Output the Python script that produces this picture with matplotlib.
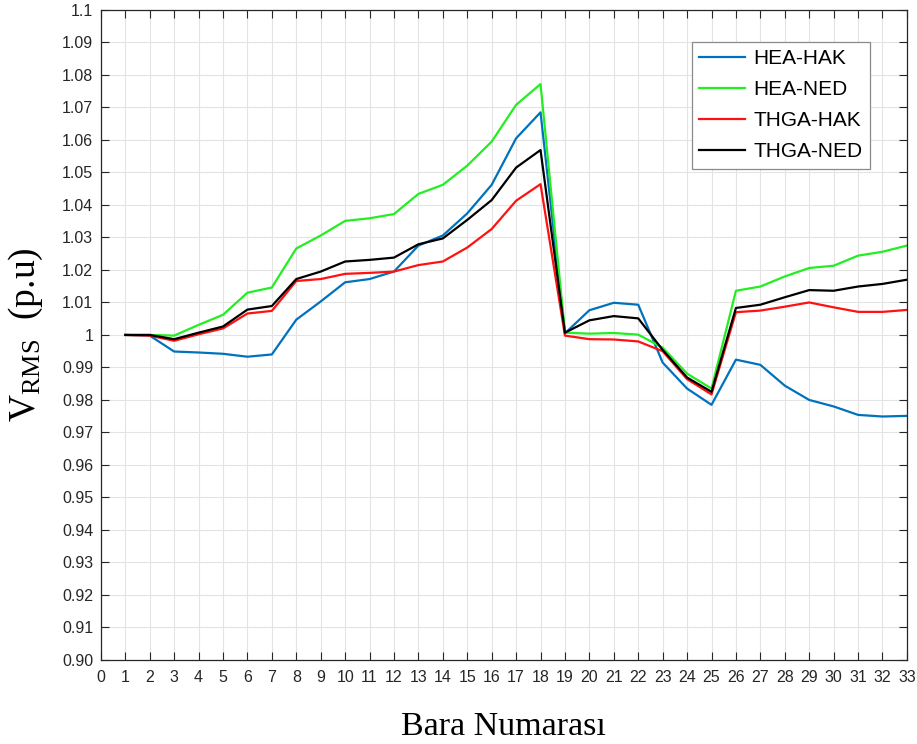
import numpy as np
import matplotlib.pyplot as plt

# bus numbers and RMS voltage profiles (p.u)
bus = list(range(1, 34))

hea_hak = [1.0000, 0.9998, 0.9949, 0.9946, 0.9942, 0.9933, 0.9940, 1.0047, 1.0103, 1.0162,
           1.0172, 1.0195, 1.0275, 1.0306, 1.0374, 1.0462, 1.0605, 1.0685, 1.0005, 1.0076,
           1.0099, 1.0093, 0.9915, 0.9835, 0.9785, 0.9924, 0.9908, 0.9844, 0.9800, 0.9780,
           0.9754, 0.9749, 0.9751]
hea_ned = [1.0000, 1.0000, 0.9998, 1.0031, 1.0062, 1.0130, 1.0146, 1.0266, 1.0306, 1.0351,
           1.0359, 1.0372, 1.0434, 1.0462, 1.0521, 1.0595, 1.0708, 1.0772, 1.0007, 1.0004,
           1.0006, 1.0001, 0.9961, 0.9881, 0.9835, 1.0136, 1.0149, 1.0180, 1.0206, 1.0213,
           1.0244, 1.0256, 1.0275]
thga_hak = [1.0000, 0.9998, 0.9982, 1.0002, 1.0020, 1.0066, 1.0074, 1.0166, 1.0172, 1.0188,
            1.0191, 1.0195, 1.0215, 1.0226, 1.0269, 1.0326, 1.0413, 1.0464, 0.9998, 0.9987,
            0.9986, 0.9980, 0.9950, 0.9864, 0.9817, 1.0070, 1.0075, 1.0087, 1.0100, 1.0085,
            1.0071, 1.0071, 1.0077]
thga_ned = [1.0000, 1.0000, 0.9987, 1.0007, 1.0026, 1.0078, 1.0089, 1.0172, 1.0195, 1.0226,
            1.0231, 1.0238, 1.0279, 1.0297, 1.0354, 1.0415, 1.0515, 1.0569, 1.0007, 1.0045,
            1.0058, 1.0051, 0.9954, 0.9869, 0.9825, 1.0083, 1.0093, 1.0116, 1.0138, 1.0136,
            1.0149, 1.0157, 1.0170]

series = [
    ('HEA-HAK', hea_hak, '#0072BD'),
    ('HEA-NED', hea_ned, '#22EE22'),
    ('THGA-HAK', thga_hak, '#FF1111'),
    ('THGA-NED', thga_ned, '#000000'),
]

y_ticks = np.round(np.arange(0.90, 1.1001, 0.01), 2)
y_labels = ['0.90'] + [f'{v:g}' for v in y_ticks[1:]]

fig = plt.figure(figsize=(9.17, 7.44), dpi=100)
ax = fig.add_axes([0.110, 0.113, 0.879, 0.8736])

for name, vals, col in series:
    ax.plot(bus, vals, color=col, linewidth=1.6, label=name)

ax.set_xlim(0, 33)
ax.set_ylim(0.90, 1.10)
ax.set_xticks(range(0, 34))
ax.set_yticks(y_ticks)
ax.set_yticklabels(y_labels)
ax.tick_params(axis='both', direction='in', top=True, right=True, length=6,
               width=0.8, labelsize=11.5, colors='#262626')
ax.tick_params(axis='x', pad=7)
ax.tick_params(axis='y', pad=5.5)
for lbl in ax.get_xticklabels() + ax.get_yticklabels():
    lbl.set_family('Liberation Sans')
ax.grid(True, color='#e3e3e3', linewidth=0.8)
ax.set_axisbelow(True)
for sp in ax.spines.values():
    sp.set_color('#262626')
    sp.set_linewidth(0.9)

ax.set_xlabel('Bara Numarası', family='Liberation Serif', fontsize=24.5, labelpad=19)
ax.set_ylabel(r'$\mathregular{V_{RMS}}$  (p.u)', family='Liberation Serif',
              fontsize=27, labelpad=12)

leg = ax.legend(loc='upper right', bbox_to_anchor=(0.954, 0.951), borderaxespad=0,
                prop={'family': 'Liberation Sans', 'size': 15},
                fancybox=False, framealpha=1, edgecolor='#8a8a8a',
                handlelength=2.2, handletextpad=0.4, labelspacing=0.58,
                borderpad=0.35)
leg.get_frame().set_linewidth(0.9)

fig.savefig('out.png', dpi=100)
